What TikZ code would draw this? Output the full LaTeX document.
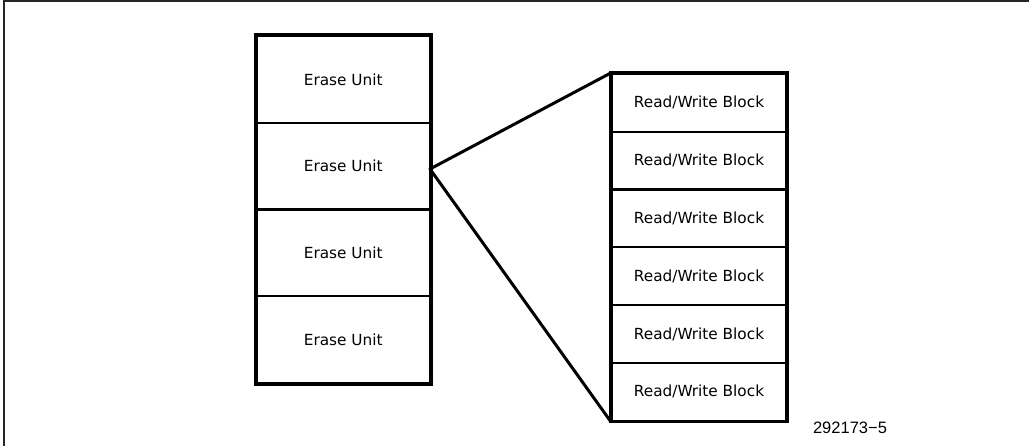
\documentclass[tikz,border=0pt]{standalone}
\usepackage{fontspec}
\setmainfont{DejaVu Sans}
\newfontfamily\figidfont{Liberation Sans}
\begin{document}
\begin{tikzpicture}[x=1pt,y=-1pt,
  cellbase/.style={draw, line width=2.2pt, inner sep=0pt, font=\fontsize{15.3}{18}\selectfont},
  erasecell/.style={cellbase, minimum width=173.5pt, minimum height=86.75pt},
  rwcell/.style={cellbase, minimum width=174pt, minimum height=57.8pt},
  outline/.style={draw, line width=3.2pt},
  fan/.style={draw, line width=3pt, line cap=round, line join=round},
  frameline/.style={draw=black!85, line width=2pt}]
\useasboundingbox (0,0) rectangle (1029,446);

% page frame (top and left edges)
\draw[frameline] (1029,1.5) -- (3.5,1.5) -- (3.5,446);

% erase units
\node[erasecell] (e1) at (343.25,79.4)  {Erase Unit};
\node[erasecell] (e2) at (343.25,166.1) {Erase Unit};
\node[erasecell] (e3) at (343.25,252.9) {Erase Unit};
\node[erasecell] (e4) at (343.25,339.6) {Erase Unit};
\draw[outline] (e1.north west) rectangle (e4.south east);

% read/write blocks of one erase unit
\node[rwcell] (w1) at (699,102.9) {Read/Write Block};
\node[rwcell] (w2) at (699,160.7) {Read/Write Block};
\node[rwcell] (w3) at (699,218.5) {Read/Write Block};
\node[rwcell] (w4) at (699,276.2) {Read/Write Block};
\node[rwcell] (w5) at (699,334.0) {Read/Write Block};
\node[rwcell] (w6) at (699,391.8) {Read/Write Block};
\draw[outline] (w1.north west) rectangle (w6.south east);

% expansion lines
\coordinate (apex) at (430,169);
\draw[fan] (w1.north west) -- (apex) -- (w6.south west);

% figure number
\node[font=\figidfont\fontsize{16.5}{19}\selectfont, inner sep=0pt] (figid) at (850,427.5) {292173−5};
\end{tikzpicture}
\end{document}
